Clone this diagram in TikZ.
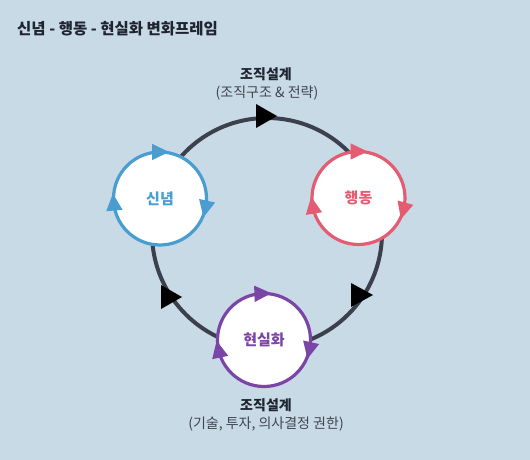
\documentclass[tikz,border=0pt]{standalone}
\usepackage{fontspec}
\setmainfont{Noto Sans CJK KR}
\usetikzlibrary{calc}
\definecolor{bg}{HTML}{C9DAE7}
\definecolor{ring}{HTML}{3C3F4C}
\definecolor{cblue}{HTML}{4A9DD1}
\definecolor{cred}{HTML}{E45C72}
\definecolor{cpurp}{HTML}{7A45A6}
\definecolor{ink}{HTML}{1E2430}
\newcommand\smarrow[3]{%
  \fill[#3] ($(#1)+(#2:46.5)+(#2+90:9)$) --
            ($(#1)+(#2:46.5)+(#2-90:8)+(#2:8.2)$) --
            ($(#1)+(#2:46.5)+(#2-90:8)+(#2+180:8.2)$) -- cycle;}
\tikzset{
  smallcirc/.style={circle, draw=#1, fill=white, line width=3.2bp, minimum size=93bp,
    inner sep=0pt, text=#1, font=\fontsize{15bp}{18bp}\selectfont\bfseries},
  headlbl/.style={text=ink, font=\fontsize{14bp}{16bp}\selectfont\bfseries, inner sep=0pt},
  sublbl/.style={text=ink!85, font=\fontsize{14bp}{16bp}\selectfont, inner sep=0pt},
  bigtip/.style={fill=black}
}
\begin{document}
\begin{tikzpicture}[x=1bp, y=-1bp]
  \fill[bg] (0,0) rectangle (530,460);
  \useasboundingbox (0,0) rectangle (530,460);

  \node[anchor=west, text=ink, font=\fontsize{15.5bp}{18bp}\selectfont\bfseries, inner sep=0pt]
    (title) at (17,29) {신념 - 행동 - 현실화 변화프레임};

  % big ring
  \coordinate (ringc) at (267,233);
  \draw[ring, line width=4bp] (ringc) circle[radius=115];

  % big arrowheads
  \fill[bigtip] (256,104) -- (277,116) -- (256,128) -- cycle;
  \fill[bigtip] (161,285) -- (182,297) -- (161,309) -- cycle;
  \fill[bigtip] (351,283) -- (373,295) -- (351,307) -- cycle;

  % small circles
  \node[smallcirc=cblue] (belief) at (160,198.5) {신념};
  \node[smallcirc=cred] (action) at (358.5,198) {행동};
  \node[smallcirc=cpurp] (real) at (264,340) {현실화};

  \smarrow{belief}{270}{cblue}
  \smarrow{belief}{12.5}{cblue}
  \smarrow{belief}{175}{cblue}
  \smarrow{action}{270}{cred}
  \smarrow{action}{15.5}{cred}
  \smarrow{action}{170.5}{cred}
  \smarrow{real}{268}{cpurp}
  \smarrow{real}{12.5}{cpurp}
  \smarrow{real}{168}{cpurp}

  % labels
  \node[headlbl] (toplbl) at (266,74) {조직설계};
  \node[sublbl] (topsub) at (267,93) {(조직구조 \& 전략)};
  \node[headlbl] (botlbl) at (266,405) {조직설계};
  \node[sublbl] (botsub) at (266,424) {(기술, 투자, 의사결정 권한)};
\end{tikzpicture}
\end{document}
